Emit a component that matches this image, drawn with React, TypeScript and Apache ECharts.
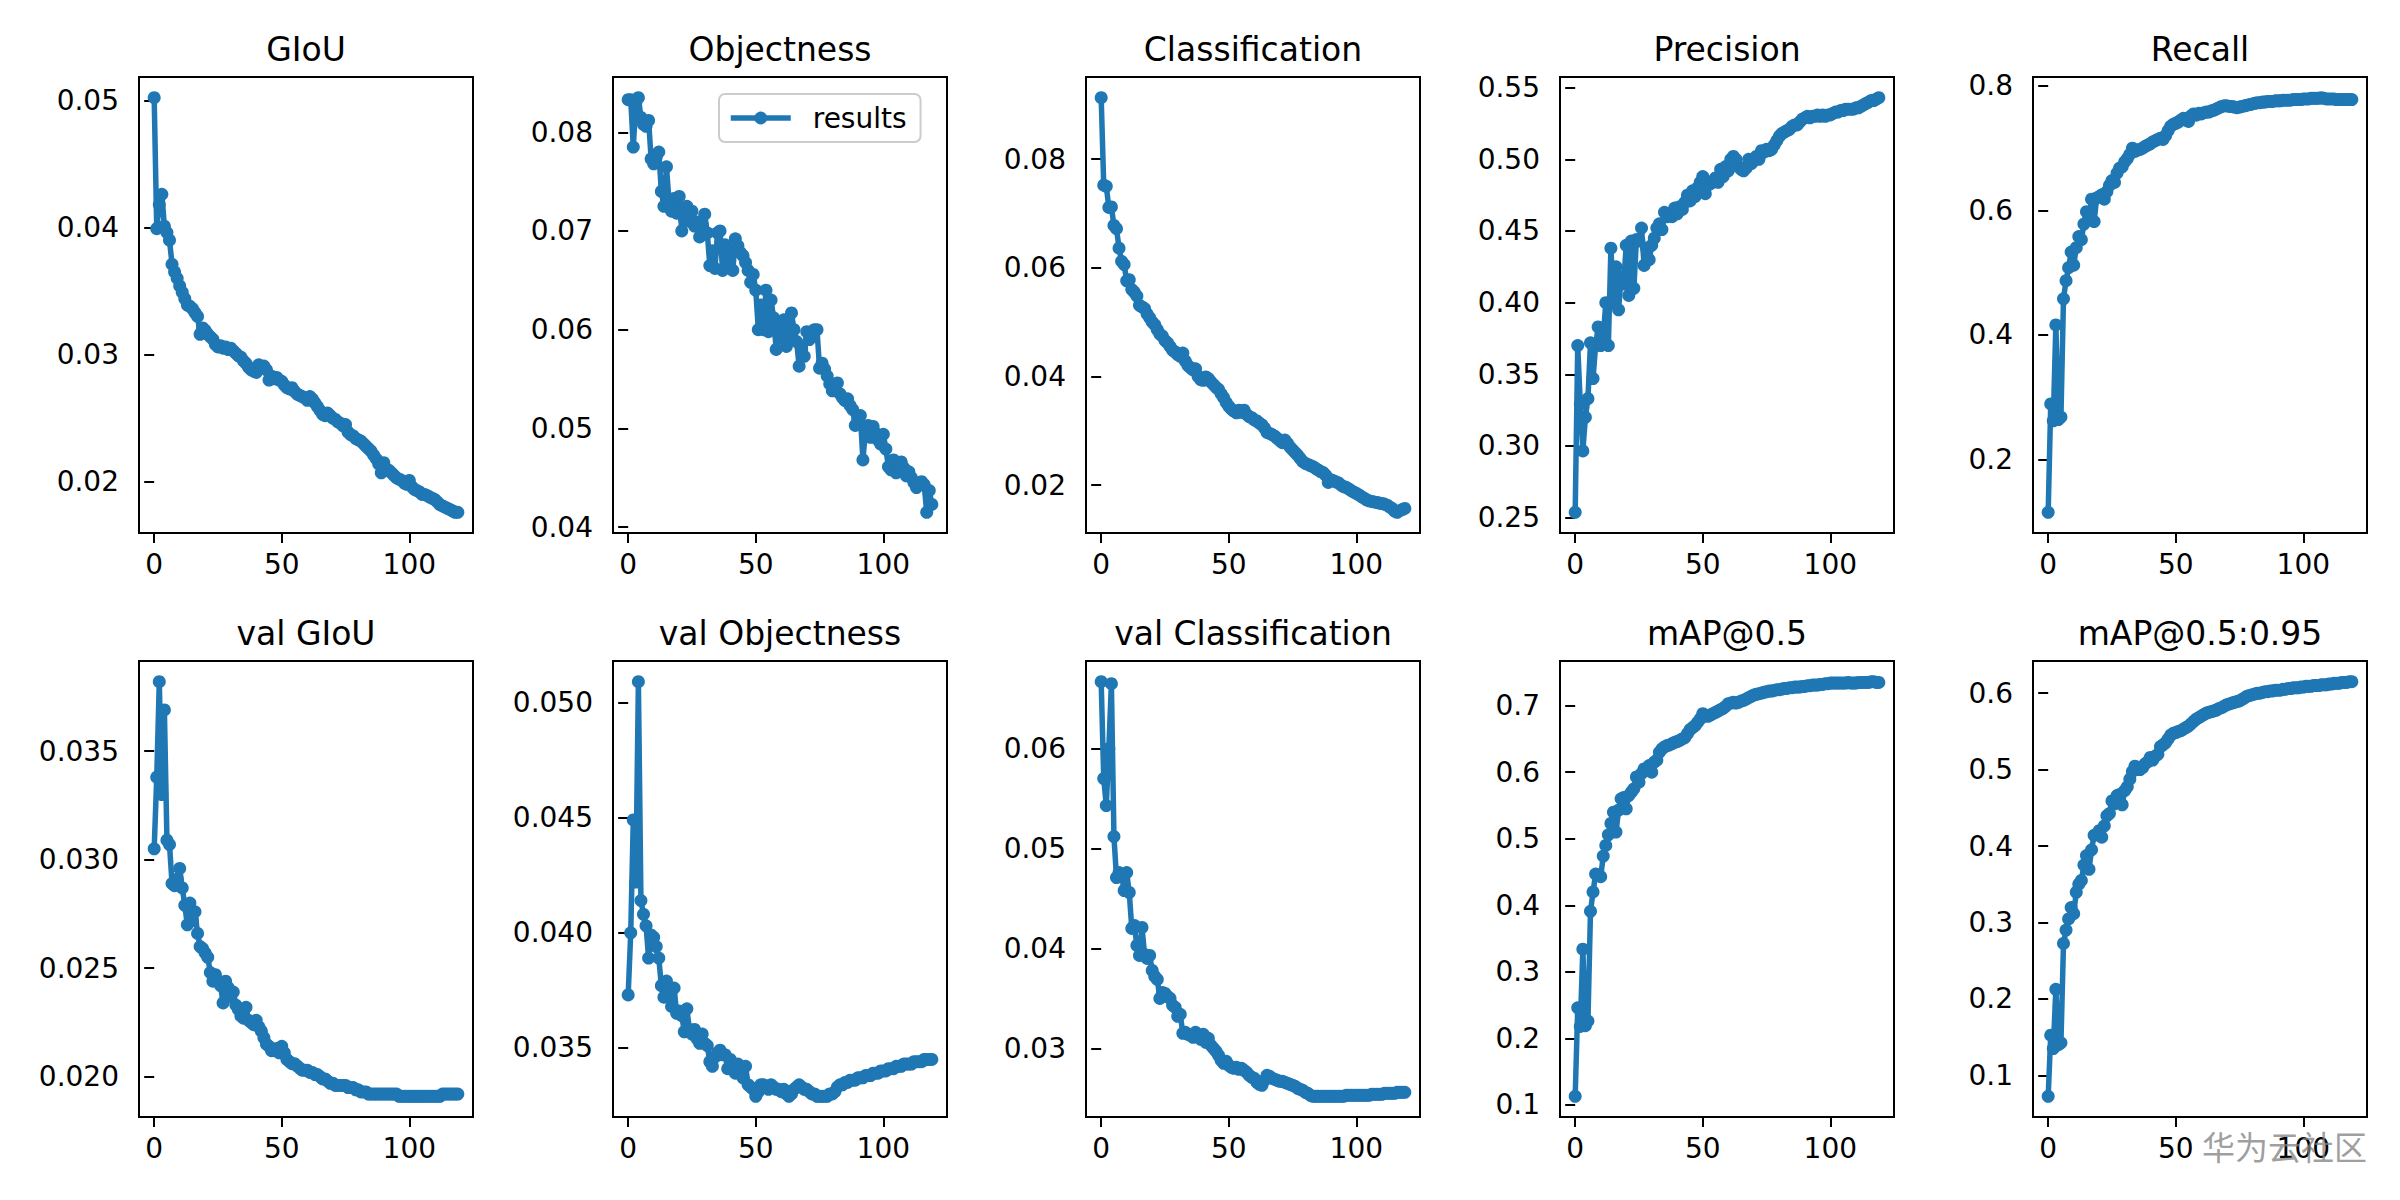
import { useEffect, useRef } from 'react'
import * as echarts from 'echarts'

// epochs 0..119 on every x axis
const EPOCH_COUNT = 120
const X_TICKS = ['0', '50', '100']

const TITLES = [
  'GIoU', 'Objectness', 'Classification', 'Precision', 'Recall',
  'val GIoU', 'val Objectness', 'val Classification', 'mAP@0.5', 'mAP@0.5:0.95',
]

const GIOU = [
  0.0502, 0.0399, 0.0418, 0.0426, 0.0401, 0.0396, 0.0390, 0.0371, 0.0365, 0.0360,
  0.0354, 0.0349, 0.0344, 0.0339, 0.0338, 0.0336, 0.0333, 0.0330, 0.0316, 0.0321,
  0.0319, 0.0316, 0.0314, 0.0312, 0.0308, 0.0306, 0.0307, 0.0305, 0.0306, 0.0304,
  0.0305, 0.0303, 0.0301, 0.0299, 0.0298, 0.0295, 0.0293, 0.0290, 0.0288, 0.0287,
  0.0286, 0.0292, 0.0290, 0.0291, 0.0288, 0.0280, 0.0283, 0.0281, 0.0282, 0.0280,
  0.0279, 0.0276, 0.0274, 0.0273, 0.0274, 0.0271, 0.0269, 0.0268, 0.0267, 0.0266,
  0.0264, 0.0267, 0.0265, 0.0262, 0.0259, 0.0256, 0.0253, 0.0252, 0.0254, 0.0252,
  0.0250, 0.0249, 0.0247, 0.0246, 0.0244, 0.0245, 0.0239, 0.0237, 0.0236, 0.0234,
  0.0233, 0.0232, 0.0230, 0.0228, 0.0226, 0.0224, 0.0221, 0.0218, 0.0214, 0.0207,
  0.0215, 0.0210, 0.0209, 0.0207, 0.0205, 0.0203, 0.0202, 0.0201, 0.0199, 0.0198,
  0.0201, 0.0196, 0.0194, 0.0193, 0.0192, 0.0190, 0.0190, 0.0189, 0.0188, 0.0187,
  0.0186, 0.0184, 0.0182, 0.0181, 0.0180, 0.0179, 0.0178, 0.0177, 0.0176, 0.0176,
]

const OBJECTNESS = [
  0.0833, 0.0833, 0.0785, 0.0830, 0.0835, 0.0815, 0.0808, 0.0806, 0.0812, 0.0773,
  0.0768, 0.0775, 0.0780, 0.0740, 0.0725, 0.0765, 0.0730, 0.0720, 0.0733, 0.0718,
  0.0735, 0.0700, 0.0713, 0.0725, 0.0710, 0.0720, 0.0705, 0.0709, 0.0694, 0.0706,
  0.0717, 0.0698, 0.0665, 0.0680, 0.0662, 0.0698, 0.0700, 0.0660, 0.0686, 0.0670,
  0.0680, 0.0660, 0.0692, 0.0685, 0.0678, 0.0675, 0.0668, 0.0660, 0.0648, 0.0656,
  0.0640, 0.0600, 0.0625, 0.0600, 0.0640, 0.0598, 0.0630, 0.0612, 0.0580, 0.0605,
  0.0592, 0.0610, 0.0583, 0.0595, 0.0617, 0.0600, 0.0588, 0.0563, 0.0580, 0.0573,
  0.0598, 0.0590, 0.0598, 0.0600, 0.0600, 0.0561, 0.0566, 0.0560, 0.0553, 0.0545,
  0.0538, 0.0541, 0.0546, 0.0535, 0.0531, 0.0528, 0.0530, 0.0523, 0.0519, 0.0503,
  0.0510, 0.0513, 0.0468, 0.0498, 0.0503, 0.0491, 0.0502, 0.0495, 0.0488, 0.0484,
  0.0494, 0.0479, 0.0461, 0.0458, 0.0468, 0.0455, 0.0462, 0.0466, 0.0460, 0.0452,
  0.0456, 0.0450, 0.0445, 0.0440, 0.0444, 0.0446, 0.0443, 0.0415, 0.0437, 0.0423,
]

const CLASSIFICATION = [
  0.0913, 0.0752, 0.0750, 0.0711, 0.0712, 0.0678, 0.0672, 0.0636, 0.0612, 0.0606,
  0.0576, 0.0578, 0.0560, 0.0555, 0.0548, 0.0531, 0.0528, 0.0525, 0.0515, 0.0508,
  0.0500, 0.0495, 0.0486, 0.0478, 0.0474, 0.0466, 0.0462, 0.0455, 0.0448, 0.0445,
  0.0440, 0.0437, 0.0443, 0.0428, 0.0420, 0.0416, 0.0412, 0.0414, 0.0400, 0.0394,
  0.0393, 0.0399, 0.0396, 0.0390, 0.0385, 0.0380, 0.0376, 0.0368, 0.0361, 0.0352,
  0.0345, 0.0340, 0.0336, 0.0333, 0.0338, 0.0334, 0.0338, 0.0330, 0.0326, 0.0324,
  0.0320, 0.0318, 0.0314, 0.0311, 0.0305, 0.0297, 0.0295, 0.0293, 0.0290, 0.0286,
  0.0282, 0.0278, 0.0283, 0.0277, 0.0270, 0.0265, 0.0260, 0.0255, 0.0249, 0.0243,
  0.0240, 0.0238, 0.0236, 0.0234, 0.0231, 0.0228, 0.0225, 0.0223, 0.0218, 0.0205,
  0.0210, 0.0208, 0.0206, 0.0204, 0.0200, 0.0197, 0.0196, 0.0193, 0.0190, 0.0187,
  0.0185, 0.0182, 0.0179, 0.0176, 0.0173, 0.0171, 0.0170, 0.0169, 0.0168, 0.0167,
  0.0166, 0.0165, 0.0163, 0.0160, 0.0157, 0.0152, 0.0150, 0.0153, 0.0155, 0.0157,
]

const PRECISION = [
  0.2537, 0.370, 0.329, 0.2965, 0.320, 0.333, 0.372, 0.347, 0.370, 0.383,
  0.370, 0.376, 0.400, 0.370, 0.438, 0.400, 0.425, 0.395, 0.418, 0.413,
  0.440, 0.405, 0.443, 0.410, 0.444, 0.443, 0.452, 0.426, 0.438, 0.430,
  0.440, 0.445, 0.452, 0.455, 0.451, 0.463, 0.460, 0.462, 0.460, 0.466,
  0.462, 0.467, 0.465, 0.470, 0.475, 0.471, 0.478, 0.474, 0.480, 0.484,
  0.488, 0.476, 0.482, 0.483, 0.485, 0.487, 0.484, 0.493, 0.488, 0.495,
  0.492, 0.500, 0.502, 0.500, 0.495, 0.493, 0.492, 0.494, 0.500, 0.497,
  0.499, 0.502, 0.500, 0.506, 0.505, 0.507, 0.506, 0.507, 0.510, 0.513,
  0.516, 0.518, 0.519, 0.520, 0.521, 0.523, 0.524, 0.524, 0.526, 0.528,
  0.529, 0.530, 0.529, 0.530, 0.530, 0.531, 0.530, 0.531, 0.530, 0.531,
  0.531, 0.532, 0.533, 0.533, 0.534, 0.534, 0.535, 0.535, 0.535, 0.535,
  0.536, 0.536, 0.537, 0.538, 0.539, 0.540, 0.541, 0.541, 0.542, 0.543,
]

const RECALL = [
  0.115, 0.289, 0.262, 0.416, 0.264, 0.268, 0.458, 0.487, 0.508, 0.533,
  0.512, 0.540, 0.558, 0.553, 0.578, 0.598, 0.585, 0.618, 0.582, 0.620,
  0.622, 0.625, 0.618, 0.630, 0.640, 0.648, 0.645, 0.660, 0.668, 0.670,
  0.678, 0.683, 0.690, 0.700, 0.695, 0.697, 0.698, 0.700, 0.703, 0.705,
  0.707, 0.710, 0.712, 0.714, 0.716, 0.714, 0.720, 0.728, 0.735, 0.738,
  0.740, 0.742, 0.745, 0.748, 0.745, 0.743, 0.752, 0.755, 0.753, 0.756,
  0.755, 0.757, 0.758, 0.758, 0.760, 0.761, 0.763, 0.765, 0.767, 0.768,
  0.768, 0.767, 0.767, 0.766, 0.765, 0.766, 0.767, 0.768, 0.769, 0.770,
  0.771, 0.772, 0.773, 0.773, 0.774, 0.774, 0.775, 0.775, 0.775, 0.776,
  0.776, 0.776, 0.777, 0.777, 0.777, 0.777, 0.778, 0.778, 0.778, 0.778,
  0.779, 0.779, 0.779, 0.780, 0.780, 0.780, 0.780, 0.781, 0.780, 0.779,
  0.779, 0.779, 0.779, 0.778, 0.778, 0.778, 0.778, 0.778, 0.778, 0.778,
]

const VAL_GIOU = [
  0.0305, 0.0338, 0.0382, 0.0330, 0.0369, 0.0309, 0.0307, 0.0289, 0.0288, 0.0291,
  0.0296, 0.0287, 0.0279, 0.0270, 0.0280, 0.0272, 0.0276, 0.0266, 0.0260, 0.0259,
  0.0257, 0.0255, 0.0248, 0.0244, 0.0247, 0.0244, 0.0242, 0.0234, 0.0244, 0.0241,
  0.0237, 0.0239, 0.0233, 0.0231, 0.0228, 0.0227, 0.0232, 0.0226, 0.0225, 0.0224,
  0.0226, 0.0223, 0.0221, 0.0218, 0.0215, 0.0214, 0.0212, 0.0212, 0.0213, 0.0211,
  0.0214, 0.0211, 0.0208, 0.0207, 0.0206, 0.0206, 0.0205, 0.0204, 0.0203, 0.0203,
  0.0203, 0.0202, 0.0202, 0.0201, 0.0201, 0.0200, 0.0199, 0.0199, 0.0198, 0.0197,
  0.0197, 0.0196, 0.0196, 0.0196, 0.0196, 0.0196, 0.0195, 0.0195, 0.0195, 0.0194,
  0.0194, 0.0193, 0.0193, 0.0193, 0.0192, 0.0192, 0.0192, 0.0192, 0.0192, 0.0192,
  0.0192, 0.0192, 0.0192, 0.0192, 0.0192, 0.0192, 0.0191, 0.0191, 0.0191, 0.0191,
  0.0191, 0.0191, 0.0191, 0.0191, 0.0191, 0.0191, 0.0191, 0.0191, 0.0191, 0.0191,
  0.0191, 0.0191, 0.0191, 0.0192, 0.0192, 0.0192, 0.0192, 0.0192, 0.0192, 0.0192,
]

const VAL_OBJECTNESS = [
  0.0373, 0.0400, 0.0449, 0.0422, 0.0509, 0.0414, 0.0408, 0.0403, 0.0389, 0.0399,
  0.0398, 0.0394, 0.0389, 0.0377, 0.0372, 0.0379, 0.0376, 0.0368, 0.0376, 0.0365,
  0.0366, 0.0364, 0.0357, 0.0367, 0.0358, 0.0356, 0.0358, 0.0354, 0.0352, 0.0356,
  0.0352, 0.0351, 0.0344, 0.0342, 0.0346, 0.0348, 0.0349, 0.0347, 0.0347, 0.0341,
  0.0345, 0.0342, 0.0339, 0.0343, 0.0341, 0.0337, 0.0342, 0.0334, 0.0333, 0.0332,
  0.0329, 0.0331, 0.0334, 0.0334, 0.0333, 0.0332, 0.0334, 0.0333, 0.0332, 0.0332,
  0.0331, 0.0332, 0.0330, 0.0329, 0.0330, 0.0332, 0.0333, 0.0334, 0.0333, 0.0332,
  0.0332, 0.0331, 0.0330, 0.0330, 0.0329, 0.0329, 0.0329, 0.0329, 0.0329, 0.0330,
  0.0330, 0.0331, 0.0333, 0.0334, 0.0334, 0.0335, 0.0335, 0.0336, 0.0336, 0.0336,
  0.0337, 0.0337, 0.0337, 0.0338, 0.0338, 0.0338, 0.0339, 0.0339, 0.0339, 0.0340,
  0.0340, 0.0340, 0.0341, 0.0341, 0.0341, 0.0342, 0.0342, 0.0342, 0.0343, 0.0343,
  0.0343, 0.0343, 0.0344, 0.0344, 0.0344, 0.0344, 0.0345, 0.0345, 0.0345, 0.0345,
]

const VAL_CLASSIFICATION = [
  0.0667, 0.0570, 0.0543, 0.0600, 0.0665, 0.0512, 0.0471, 0.0476, 0.0473, 0.0458,
  0.0476, 0.0456, 0.0420, 0.0423, 0.0403, 0.0393, 0.0421, 0.0394, 0.0390, 0.0393,
  0.0378, 0.0372, 0.0369, 0.0350, 0.0356, 0.0355, 0.0352, 0.0350, 0.0343, 0.0341,
  0.0332, 0.0334, 0.0315, 0.0316, 0.0314, 0.0313, 0.0311, 0.0316, 0.0312, 0.0309,
  0.0314, 0.0306, 0.0310, 0.0303, 0.0300, 0.0297, 0.0293, 0.0288, 0.0285, 0.0287,
  0.0283, 0.0281, 0.0280, 0.0281, 0.0279, 0.0280, 0.0278, 0.0276, 0.0273, 0.0271,
  0.0270, 0.0266, 0.0264, 0.0263, 0.0268, 0.0273, 0.0272, 0.0270, 0.0269, 0.0268,
  0.0267, 0.0267, 0.0266, 0.0265, 0.0264, 0.0263, 0.0262, 0.0260, 0.0259, 0.0258,
  0.0256, 0.0255, 0.0253, 0.0252, 0.0252, 0.0252, 0.0252, 0.0252, 0.0252, 0.0252,
  0.0252, 0.0252, 0.0252, 0.0252, 0.0252, 0.0252, 0.0253, 0.0253, 0.0253, 0.0253,
  0.0253, 0.0253, 0.0253, 0.0253, 0.0253, 0.0253, 0.0254, 0.0254, 0.0254, 0.0254,
  0.0254, 0.0255, 0.0255, 0.0255, 0.0255, 0.0255, 0.0256, 0.0256, 0.0256, 0.0256,
]

const MAP50 = [
  0.113, 0.246, 0.218, 0.334, 0.219, 0.226, 0.391, 0.420, 0.447, 0.446,
  0.443, 0.474, 0.490, 0.506, 0.523, 0.540, 0.510, 0.543, 0.560, 0.562,
  0.545, 0.565, 0.570, 0.575, 0.593, 0.585, 0.598, 0.605, 0.603, 0.610,
  0.600, 0.615, 0.618, 0.630, 0.635, 0.638, 0.640, 0.641, 0.643, 0.645,
  0.646, 0.648, 0.650, 0.652, 0.658, 0.664, 0.667, 0.670, 0.675, 0.680,
  0.688, 0.685, 0.684, 0.686, 0.688, 0.690, 0.692, 0.694, 0.696, 0.699,
  0.703, 0.704, 0.705, 0.704, 0.705, 0.707, 0.708, 0.710, 0.712, 0.714,
  0.716, 0.717, 0.718, 0.719, 0.720, 0.721, 0.722, 0.722, 0.723, 0.724,
  0.724, 0.725, 0.726, 0.726, 0.727, 0.727, 0.728, 0.728, 0.728, 0.729,
  0.729, 0.730, 0.730, 0.731, 0.731, 0.731, 0.732, 0.732, 0.733, 0.733,
  0.734, 0.734, 0.734, 0.734, 0.734, 0.734, 0.734, 0.735, 0.734, 0.734,
  0.734, 0.735, 0.735, 0.735, 0.735, 0.735, 0.736, 0.736, 0.735, 0.735,
]

const MAP50_95 = [
  0.0725, 0.1525, 0.135, 0.2125, 0.140, 0.1425, 0.2725, 0.290, 0.3045, 0.3195,
  0.3115, 0.3395, 0.350, 0.355, 0.375, 0.3875, 0.3695, 0.395, 0.414, 0.415,
  0.420, 0.4115, 0.4265, 0.4395, 0.4425, 0.459, 0.455, 0.466, 0.4675, 0.454,
  0.4725, 0.4775, 0.4875, 0.4975, 0.5045, 0.500, 0.500, 0.5025, 0.5075, 0.510,
  0.516, 0.5125, 0.5175, 0.520, 0.530, 0.5325, 0.535, 0.540, 0.545, 0.5475,
  0.5485, 0.550, 0.551, 0.553, 0.555, 0.557, 0.560, 0.563, 0.566, 0.568,
  0.570, 0.572, 0.574, 0.575, 0.576, 0.577, 0.578, 0.580, 0.581, 0.583,
  0.585, 0.586, 0.587, 0.588, 0.589, 0.590, 0.592, 0.594, 0.596, 0.597,
  0.598, 0.599, 0.600, 0.600, 0.601, 0.602, 0.602, 0.603, 0.603, 0.604,
  0.604, 0.604, 0.605, 0.605, 0.606, 0.606, 0.607, 0.607, 0.607, 0.608,
  0.608, 0.609, 0.609, 0.609, 0.610, 0.610, 0.610, 0.611, 0.611, 0.611,
  0.612, 0.612, 0.613, 0.613, 0.613, 0.614, 0.614, 0.614, 0.615, 0.615,
]

const Y_TICKS = [
  ['0.02', '0.03', '0.04', '0.05'],
  ['0.04', '0.05', '0.06', '0.07', '0.08'],
  ['0.02', '0.04', '0.06', '0.08'],
  ['0.25', '0.30', '0.35', '0.40', '0.45', '0.50', '0.55'],
  ['0.2', '0.4', '0.6', '0.8'],
  ['0.020', '0.025', '0.030', '0.035'],
  ['0.035', '0.040', '0.045', '0.050'],
  ['0.03', '0.04', '0.05', '0.06'],
  ['0.1', '0.2', '0.3', '0.4', '0.5', '0.6', '0.7'],
  ['0.1', '0.2', '0.3', '0.4', '0.5', '0.6'],
]

const SERIES = [
  GIOU, OBJECTNESS, CLASSIFICATION, PRECISION, RECALL,
  VAL_GIOU, VAL_OBJECTNESS, VAL_CLASSIFICATION, MAP50, MAP50_95,
]

const COL_LEFT = [139, 613, 1086, 1560, 2033]
const ROW_TOP = [77, 661]
const PLOT_W = 334
const PLOT_H = 456
const BLUE = '#1f77b4'
const FONT = 'DejaVu Sans'
const TICK_SIZE = 28

// matplotlib-style autoscale: data range plus 5% on each side
function padded(values: number[]): [number, number] {
  const lo = Math.min(...values)
  const hi = Math.max(...values)
  const pad = (hi - lo) * 0.05
  return [lo - pad, hi + pad]
}

function labelFor(labels: string[]) {
  return (v: number) => labels.find((l) => Math.abs(parseFloat(l) - v) < 1e-9) ?? String(v)
}

function buildOption(): echarts.EChartsOption {
  const epochs = Array.from({ length: EPOCH_COUNT }, (_, i) => i)
  const [xMin, xMax] = padded(epochs)
  const xVals = X_TICKS.map(Number)

  const tickLine = { show: true, length: 10, lineStyle: { color: '#000', width: 2 } }
  const labelBase = { color: '#000', fontSize: TICK_SIZE, fontFamily: FONT }

  return {
    animation: false,
    backgroundColor: '#fff',
    textStyle: { fontFamily: FONT },
    title: TITLES.map((t, i) => ({
      text: t,
      left: COL_LEFT[i % 5] + PLOT_W / 2,
      top: ROW_TOP[Math.floor(i / 5)] - 44,
      textAlign: 'center',
      padding: 0,
      textStyle: { fontSize: 33, fontWeight: 'normal', color: '#000', fontFamily: FONT },
    })),
    legend: {
      data: ['results'],
      left: 719,
      top: 94,
      padding: [10, 14, 10, 9],
      itemWidth: 60,
      itemHeight: 16,
      backgroundColor: 'rgba(255,255,255,0.8)',
      borderColor: '#cccccc',
      borderWidth: 2,
      borderRadius: 6,
      lineStyle: { width: 5.5, color: BLUE },
      itemStyle: { color: BLUE },
      textStyle: { color: '#000', fontSize: TICK_SIZE, fontFamily: FONT, padding: [0, 0, 0, 17] },
    },
    grid: SERIES.map((_, i) => ({
      left: COL_LEFT[i % 5],
      top: ROW_TOP[Math.floor(i / 5)],
      width: PLOT_W,
      height: PLOT_H,
      show: true,
      borderColor: '#000',
      borderWidth: 2,
      backgroundColor: 'transparent',
    })),
    xAxis: SERIES.map((_, i) => ({
      type: 'value',
      gridIndex: i,
      min: xMin,
      max: xMax,
      axisLine: { show: false },
      splitLine: { show: false },
      axisTick: { ...tickLine, customValues: xVals },
      axisLabel: { ...labelBase, margin: 17, customValues: xVals, formatter: labelFor(X_TICKS) },
    })),
    yAxis: SERIES.map((values, i) => {
      const [lo, hi] = padded(values)
      const ticks = Y_TICKS[i].map(Number)
      return {
        type: 'value',
        gridIndex: i,
        min: lo,
        max: hi,
        axisLine: { show: false },
        splitLine: { show: false },
        axisTick: { ...tickLine, customValues: ticks },
        axisLabel: { ...labelBase, margin: 20, customValues: ticks, formatter: labelFor(Y_TICKS[i]) },
      }
    }),
    series: SERIES.map((values, i) => ({
      name: 'results',
      type: 'line',
      xAxisIndex: i,
      yAxisIndex: i,
      data: values.map((v, j) => [epochs[j], v]),
      symbol: 'circle',
      symbolSize: 13,
      showSymbol: true,
      lineStyle: { color: BLUE, width: 5.5 },
      itemStyle: { color: BLUE },
      emphasis: { disabled: true },
    })),
    graphic: [
      {
        type: 'text',
        x: 2202,
        y: 1146,
        z: 100,
        style: {
          text: '华为云社区',
          fontSize: 33,
          fontFamily: 'Noto Sans CJK SC',
          fill: 'rgba(128,128,128,0.75)',
          align: 'left',
          verticalAlign: 'middle',
        },
      },
    ],
  }
}

export default function App() {
  const ref = useRef<HTMLDivElement>(null)

  useEffect(() => {
    const el = ref.current
    if (!el) return
    const chart = echarts.init(el, null, { renderer: 'svg' })
    chart.setOption(buildOption())
    return () => chart.dispose()
  }, [])

  return (
    <div
      ref={ref}
      style={{ position: 'absolute', left: 0, top: 0, width: 2400, height: 1200, background: '#fff' }}
    />
  )
}
